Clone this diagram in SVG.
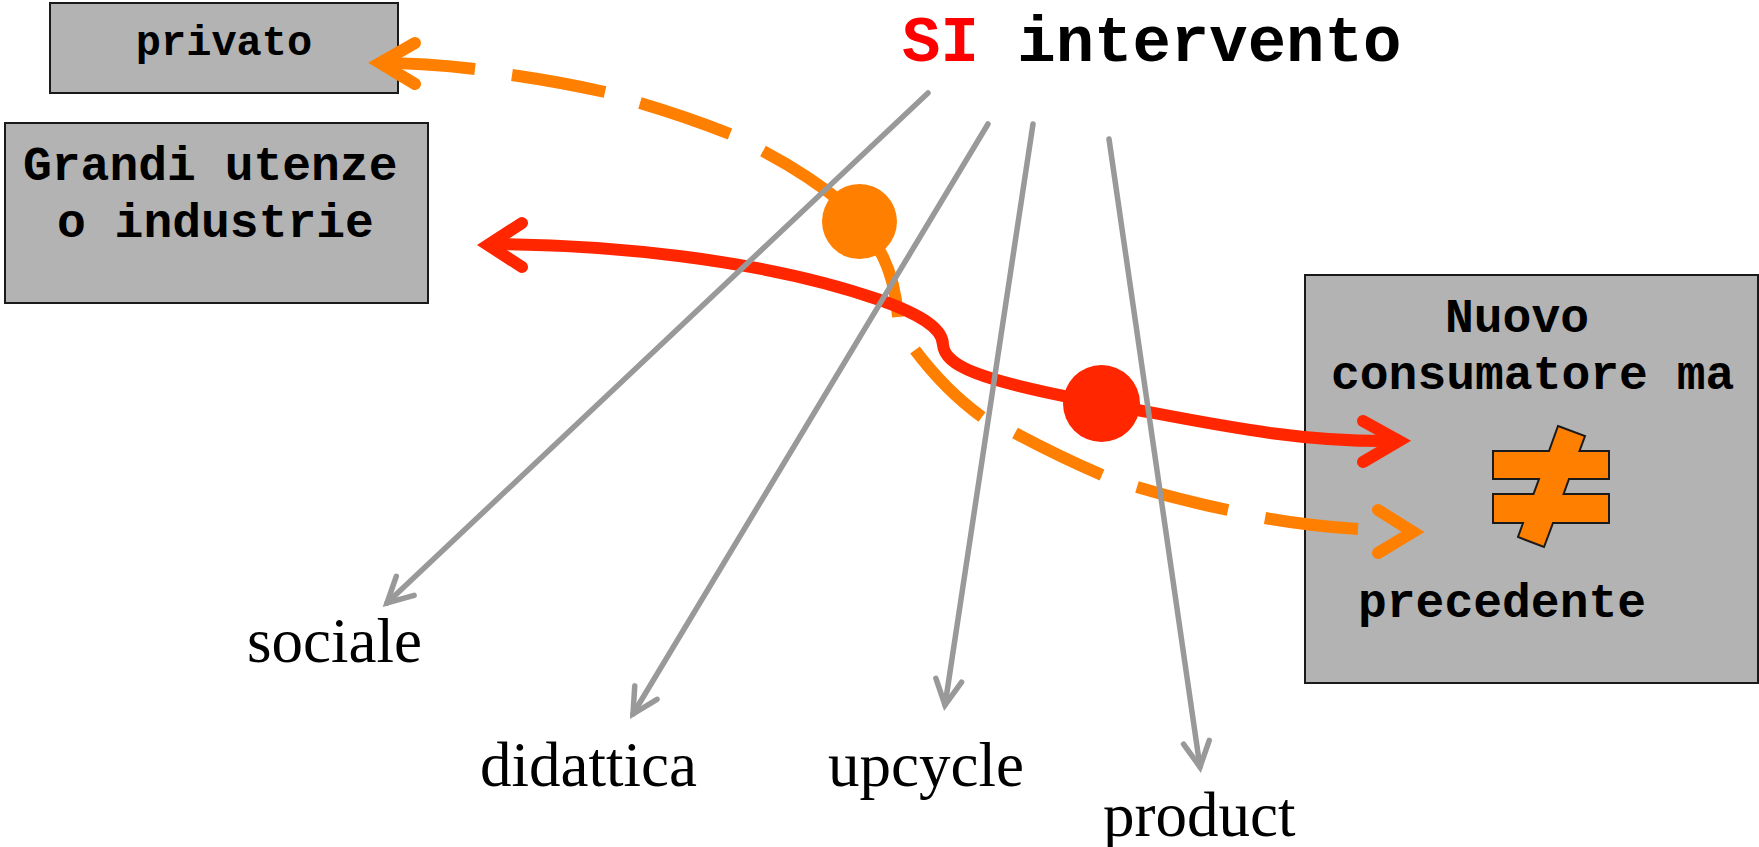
<svg xmlns="http://www.w3.org/2000/svg" width="1759" height="847" viewBox="0 0 1759 847">
<style>
.box{fill:#b3b3b3;stroke:#1a1a1a;stroke-width:2}
.mono{font-family:"Liberation Mono","Courier New",monospace;font-weight:bold;fill:#000}
.serif{font-family:"Liberation Serif","Times New Roman",serif;font-size:63px;fill:#000}
.grey{fill:none;stroke:#999999;stroke-width:5.5;stroke-linecap:round}
.org{fill:none;stroke:#ff7f00;stroke-width:12;stroke-linecap:butt}
.red{fill:none;stroke:#ff2600;stroke-width:12;stroke-linecap:butt}
.headO{fill:none;stroke:#ff7f00;stroke-width:12;stroke-linecap:round;stroke-linejoin:miter;stroke-miterlimit:10}
.headR{fill:none;stroke:#ff2600;stroke-width:12;stroke-linecap:round;stroke-linejoin:miter;stroke-miterlimit:10}
</style>
<defs>
<marker id="ga" markerUnits="userSpaceOnUse" orient="auto" markerWidth="60" markerHeight="60" viewBox="-40 -30 60 60" refX="0" refY="0" overflow="visible">
<path d="M -25,-13 L 0,0 L -25,13" fill="none" stroke="#999999" stroke-width="5.5" stroke-linecap="round" stroke-linejoin="miter" stroke-miterlimit="10"/>
</marker>
</defs>
<rect width="1759" height="847" fill="#ffffff"/>

<g id="privato">
<rect class="box" x="50" y="3" width="348" height="90"/>
<text class="mono" x="224" y="55" font-size="42" text-anchor="middle">privato</text>
</g>
<g id="grandi-utenze">
<rect class="box" x="5" y="123" width="423" height="180"/>
<text class="mono" x="23" y="180" font-size="48">Grandi utenze</text>
<text class="mono" x="57" y="237" font-size="48">o industrie</text>
</g>
<g id="nuovo-consumatore">
<rect class="box" x="1305" y="275" width="453" height="408"/>
<text class="mono" x="1445" y="332" font-size="48">Nuovo</text>
<text class="mono" x="1331" y="389" font-size="48">consumatore ma</text>
<polygon points="1558,426 1585,436 1579.5,451 1609,451 1609,479 1569,479 1563.6,494 1609,494 1609,523 1553,523 1544,547 1518,537 1523,523 1493,523 1493,494 1533.5,494 1539,479 1493,479 1493,451 1549,451" fill="#ff7f00" stroke="#1a1a1a" stroke-width="2" stroke-linejoin="miter"/>
<text class="mono" x="1358" y="617" font-size="48">precedente</text>
</g>

<g id="connectors">
<g id="orange-flow">
<path class="org" d="M 475,69 Q 425,63 380,63"/>
<path class="headO" d="M 415,43 L 380,63 L 415,84"/>
<path class="org" d="M 512,75 Q 560,82 605,92"/>
<path class="org" d="M 640,103 Q 687,117 730,134"/>
<path class="org" d="M 763,151 Q 810,176 845,205"/>
<path class="org" d="M 870,236 C 885,255 895,280 898,317"/>
<path class="org" d="M 915,350 Q 945,390 982,417"/>
<path class="org" d="M 1015,433 Q 1060,457 1102,475"/>
<path class="org" d="M 1137,487 Q 1180,500 1228,510"/>
<path class="org" d="M 1265,518 Q 1310,526 1358,529"/>
<path class="headO" d="M 1378,510 L 1413,532 L 1378,553"/>
<circle cx="859.5" cy="221.5" r="37.5" fill="#ff7f00"/>
</g>
<g id="red-flow">
<path class="red" d="M 488,244 C 600,244 760,258 880,300 C 925,316 943,330 943,345 C 945,365 975,380 1100,403 C 1200,421 1290,443 1399,441"/>
<path class="headR" d="M 522,223 L 488,245 L 522,267"/>
<path class="headR" d="M 1363,421 L 1399,441 L 1363,462"/>
<circle cx="1101.5" cy="403.5" r="38.5" fill="#ff2600"/>
</g>
<g id="grey-branches">
<path class="grey" d="M 928,93 L 387,603" marker-end="url(#ga)"/>
<path class="grey" d="M 988,124 L 633,714" marker-end="url(#ga)"/>
<path class="grey" d="M 1033,124 L 945,705" marker-end="url(#ga)"/>
<path class="grey" d="M 1109,139 L 1200,767" marker-end="url(#ga)"/>
</g>
</g>

<g id="title">
<text class="mono" x="902" y="61" font-size="64"><tspan fill="#ff0000">SI</tspan> intervento</text>
</g>
<g id="label-sociale"><text class="serif" x="247" y="662">sociale</text></g>
<g id="label-didattica"><text class="serif" x="480" y="786">didattica</text></g>
<g id="label-upcycle"><text class="serif" x="828" y="786">upcycle</text></g>
<g id="label-product"><text class="serif" x="1103" y="836">product</text></g>
</svg>
